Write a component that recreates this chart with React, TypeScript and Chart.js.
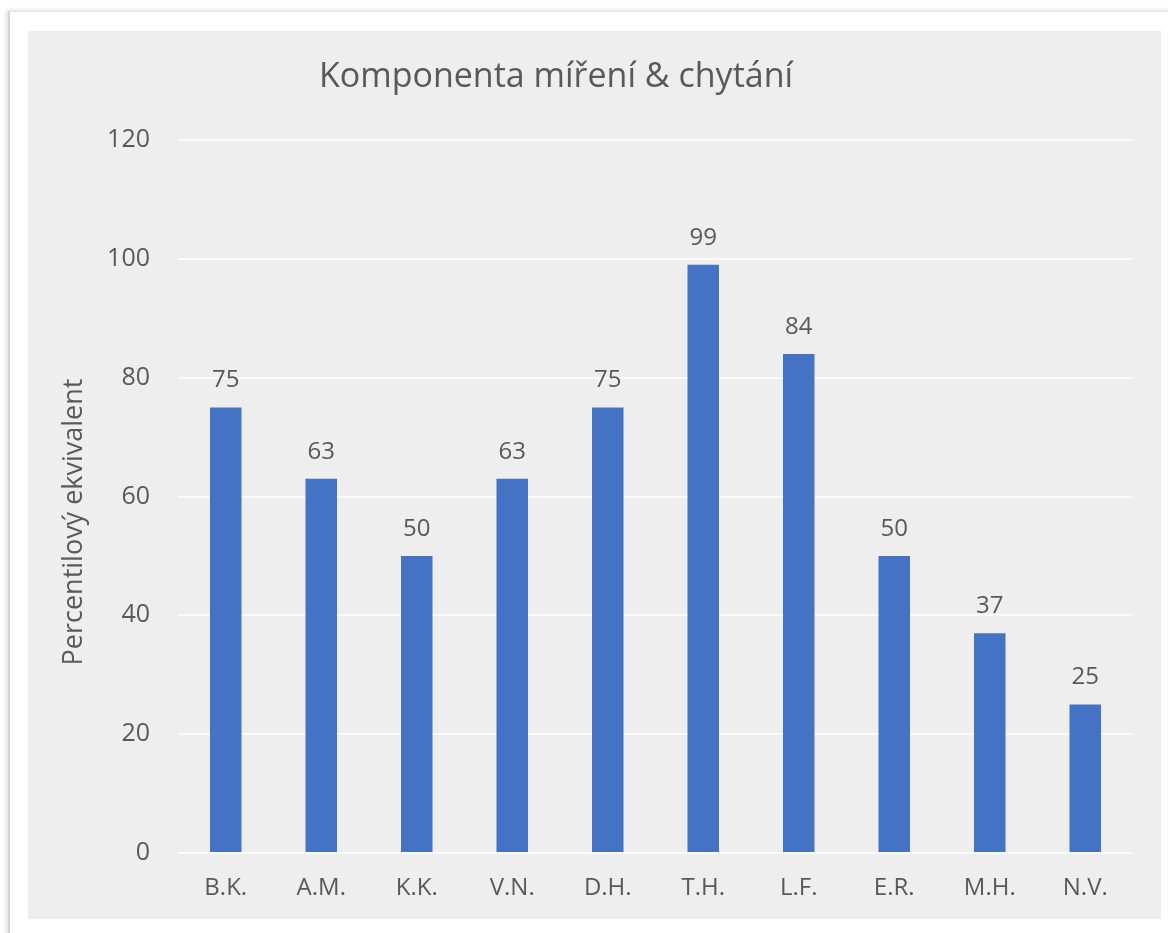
import React, { useEffect, useRef } from "react";
import { Chart, registerables } from "chart.js";

Chart.register(...registerables);

const categories = ["B.K.", "A.M.", "K.K.", "V.N.", "D.H.", "T.H.", "L.F.", "E.R.", "M.H.", "N.V."];
const values = [75, 63, 50, 63, 75, 99, 84, 50, 37, 25];
const yTicks = [0, 20, 40, 60, 80, 100, 120];
const yTitle = "Percentilový ekvivalent";
const chartTitle = "Komponenta míření & chytání";

const TEXT = "#595959";
const FONT = "'Open Sans', Lato, sans-serif";

const dataLabels = {
  id: "dataLabels",
  afterDatasetsDraw(chart: any) {
    const ctx = chart.ctx;
    const meta = chart.getDatasetMeta(0);
    ctx.save();
    ctx.font = `24px ${FONT}`;
    ctx.fillStyle = TEXT;
    ctx.textAlign = "center";
    ctx.textBaseline = "alphabetic";
    meta.data.forEach((el: any, i: number) => {
      ctx.fillText(String(values[i]), el.x, el.y - 20);
    });
    // chart title
    ctx.font = `34px ${FONT}`;
    ctx.textBaseline = "middle";
    ctx.fillText(chartTitle, 528, 46);
    // y-axis title
    ctx.translate(46, 491);
    ctx.rotate(-Math.PI / 2);
    ctx.font = `27px ${FONT}`;
    ctx.textBaseline = "middle";
    ctx.fillText(yTitle, 0, 0);
    ctx.restore();
  },
};

export default function App() {
  const ref = useRef<HTMLCanvasElement | null>(null);
  useEffect(() => {
    if (!ref.current) return;
    const chart = new Chart(ref.current, {
      type: "bar",
      data: {
        labels: categories,
        datasets: [
          {
            data: values,
            backgroundColor: "#4472c4",
            borderWidth: 0,
            barPercentage: 0.33,
            categoryPercentage: 1,
          },
        ],
      },
      options: {
        animation: false,
        responsive: false,
        layout: { padding: { left: 0, right: 28, top: 109, bottom: 0 } },
        plugins: {
          legend: { display: false },
          tooltip: { enabled: false },
          title: { display: false },
        },
        scales: {
          x: {
            grid: { display: false, drawTicks: false },
            border: { display: false },
            ticks: { color: TEXT, font: { family: FONT, size: 24 }, padding: 21, maxRotation: 0 },
            afterFit: (s: any) => {
              s.height = 66;
            },
          },
          y: {
            min: 0,
            max: 120,
            afterBuildTicks: (s: any) => {
              s.ticks = yTicks.map((v) => ({ value: v }));
            },
            grid: { color: "#fbfbfb", lineWidth: 2, drawTicks: false },
            border: { display: false },
            ticks: { color: TEXT, font: { family: FONT, size: 25 }, padding: 28 },
            afterFit: (s: any) => {
              s.width = 150;
            },
          },
        },
      },
      plugins: [dataLabels],
    });
    return () => chart.destroy();
  }, []);

  return (
    <div style={{ position: "absolute", left: 0, top: 0, width: 1168, height: 933, background: "#ffffff", overflow: "hidden" }}>
      <div
        style={{
          position: "absolute",
          left: 8,
          top: 11,
          width: 1200,
          height: 960,
          borderLeft: "2px solid #d4d4d4",
          borderTop: "1px solid #e4e4e4",
          boxShadow: "-2px -1px 4px rgba(0,0,0,0.12)",
          background: "#ffffff",
        }}
      />
      <canvas
        ref={ref}
        width={1133}
        height={888}
        style={{ position: "absolute", left: 28, top: 31, width: 1133, height: 888, background: "#eeeeee" }}
      />
    </div>
  );
}
